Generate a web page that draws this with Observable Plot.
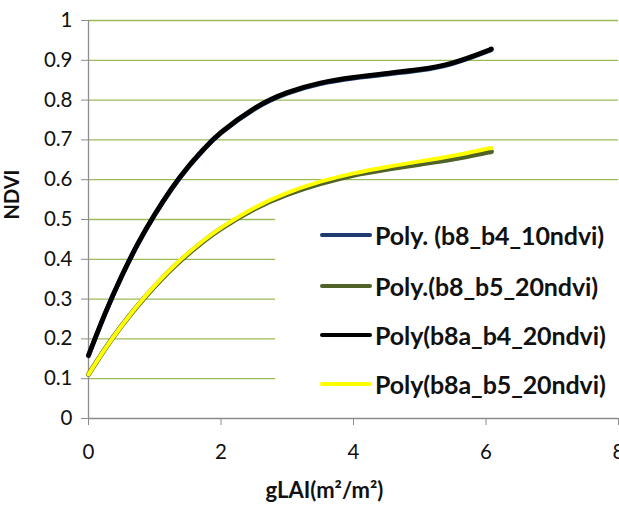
<!DOCTYPE html>
<html>
<head>
<meta charset="utf-8">
<script src="https://cdn.jsdelivr.net/npm/d3@7"></script>
<script src="https://cdn.jsdelivr.net/npm/@observablehq/plot@0.6"></script>
<style>
  body { margin: 0; background: #fff; }
  #wrap { position: relative; width: 619px; height: 513px; overflow: hidden; font-family: Lato, "Open Sans", sans-serif; }
  #legend { position: absolute; left: 275px; top: 205px; width: 344px; height: 195px; background: #fff; }
  .row { position: absolute; left: 45px; height: 24px; display: flex; align-items: center; }
  .sw { width: 52px; height: 4px; border-radius: 2px; margin-right: 3px; }
  .lab { font-weight: bold; font-size: 25px; color: #111; white-space: nowrap; letter-spacing: -0.1px; }
</style>
</head>
<body>
<div id="wrap"></div>
<script>
// gLAI sample positions (x)
const gLAI = [0, 0.25, 0.5, 0.75, 1, 1.25, 1.5, 1.75, 2, 2.5, 3, 3.5, 4, 4.5, 5, 5.5, 6, 6.07];
// NDVI series
const b8_b4_10  = [0.157, 0.262, 0.356, 0.439, 0.511, 0.575, 0.630, 0.677, 0.717, 0.777, 0.817, 0.841, 0.855, 0.865, 0.875, 0.892, 0.921, 0.926];
const b8_b5_20  = [0.111, 0.175, 0.233, 0.285, 0.332, 0.375, 0.413, 0.447, 0.477, 0.526, 0.563, 0.590, 0.611, 0.626, 0.639, 0.652, 0.668, 0.670];
const b8a_b4_20 = [0.159, 0.264, 0.358, 0.441, 0.513, 0.577, 0.632, 0.679, 0.719, 0.779, 0.819, 0.843, 0.857, 0.867, 0.877, 0.894, 0.923, 0.928];
const b8a_b5_20 = [0.111, 0.175, 0.233, 0.286, 0.334, 0.377, 0.415, 0.449, 0.479, 0.529, 0.567, 0.595, 0.616, 0.632, 0.646, 0.660, 0.677, 0.679];

const seriesNames = ["Poly. (b8_b4_10ndvi)", "Poly.(b8_b5_20ndvi)", "Poly(b8a_b4_20ndvi)", "Poly(b8a_b5_20ndvi)"];
const seriesValues = [b8_b4_10, b8_b5_20, b8a_b4_20, b8a_b5_20];
const seriesColors = ["#1F3A6E", "#4F6228", "#000000", "#FFFF00"];
const seriesWidths = [4.5, 5, 4.8, 4];

const xTicks = [0, 2, 4, 6, 8];
const yTicks = [0, 0.1, 0.2, 0.3, 0.4, 0.5, 0.6, 0.7, 0.8, 0.9, 1];
const yGrid = [0.1, 0.2, 0.3, 0.4, 0.5, 0.6, 0.7, 0.8, 0.9, 1];

const rows = [];
seriesValues.forEach((vals, i) => vals.forEach((v, j) => rows.push({series: seriesNames[i], x: gLAI[j], y: v})));

const lineMarks = seriesNames.map((name, i) =>
  Plot.line(rows.filter(d => d.series === name), {
    x: "x", y: "y", stroke: seriesColors[i], strokeWidth: seriesWidths[i], curve: "natural", strokeLinecap: "round"
  })
);

const chart = Plot.plot({
  width: 619,
  height: 513,
  marginLeft: 88,
  marginRight: 1,
  marginTop: 20,
  marginBottom: 95,
  style: { fontFamily: "Lato, 'Open Sans', sans-serif", fontSize: "20px", color: "#111", background: "#fff", overflow: "visible" },
  x: { domain: [0, 8] },
  y: { domain: [0, 1] },
  marks: [
    Plot.gridY(yGrid, { stroke: "#9BBB59", strokeOpacity: 1, strokeWidth: 1.3 }),
    Plot.ruleX([0], { y1: 0, y2: 1, stroke: "#8C8C8C", strokeWidth: 1.3 }),
    Plot.ruleY([0], { stroke: "#8C8C8C", strokeWidth: 1.3 }),
    Plot.axisY(yTicks, { tickSize: 7, tickPadding: 9, stroke: "#8C8C8C", fill: "#111", label: null, tickFormat: d => String(d), fontSize: 20.5 }),
    Plot.axisX(xTicks, { tickSize: 7, tickPadding: 19, stroke: "#8C8C8C", fill: "#111", label: null, tickFormat: d => String(d), fontSize: 20.5 }),
    ...lineMarks,
    Plot.text(["NDVI"], { frameAnchor: "left", dx: -76, rotate: -90, fontWeight: "bold", fontSize: 20, fill: "#111" }),
    Plot.text(["gLAI(m²/m²)"], { frameAnchor: "bottom", dx: -29, dy: 79, fontWeight: "bold", fontSize: 22, fill: "#111" })
  ]
});

const wrap = document.getElementById("wrap");
wrap.appendChild(chart);

const legend = document.createElement("div");
legend.id = "legend";
const rowTops = [18, 69, 118, 167];
seriesNames.forEach((name, i) => {
  const r = document.createElement("div");
  r.className = "row";
  r.style.top = rowTops[i] + "px";
  const sw = document.createElement("div");
  sw.className = "sw";
  sw.style.background = seriesColors[i];
  const lab = document.createElement("span");
  lab.className = "lab";
  lab.textContent = name;
  r.appendChild(sw);
  r.appendChild(lab);
  legend.appendChild(r);
});
wrap.appendChild(legend);
</script>
</body>
</html>
